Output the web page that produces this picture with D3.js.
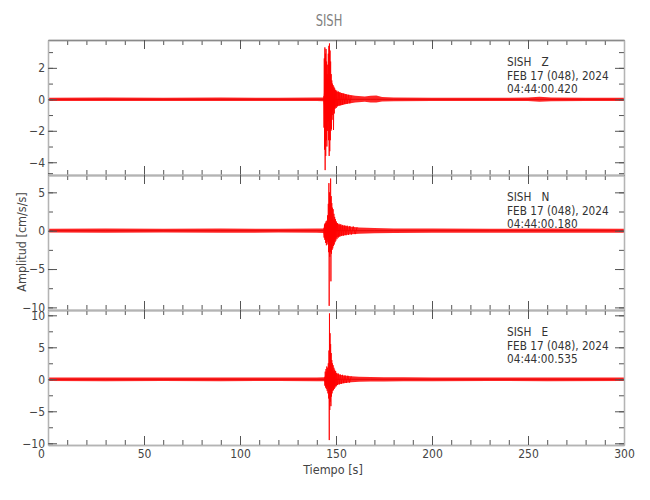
<!DOCTYPE html>
<html><head><meta charset="utf-8">
<script src="https://cdn.jsdelivr.net/npm/d3@7/dist/d3.min.js"></script>
<style>
body{margin:0;background:#fff;}
svg text{font-family:"Liberation Sans Narrow","DejaVu Sans Condensed",sans-serif;font-stretch:condensed;}
</style></head>
<body><svg id="c" width="650" height="500"></svg>
<script>
// ---------- data ----------
const title = "SISH";
const channels = ["Z", "N", "E"];
const stationLabels = ["SISH   Z", "SISH   N", "SISH   E"];
const dateLabel = "FEB 17 (048), 2024";
const startTimes = ["04:44:00.420", "04:44:00.180", "04:44:00.535"];
const xTicks = [0, 50, 100, 150, 200, 250, 300];
const yTicksZ = [2, 0, -2, -4];
const yTicksN = [5, 0, -5, -10];
const yTicksE = [10, 5, 0, -5, -10];
const yDomainZ = [-4.81, 3.77];
const yDomainN = [-10.34, 7.26];
const yDomainE = [-10.27, 10.83];

// background noise envelopes (time s, upper, lower)
const envTZ  = [0, 30, 60, 90, 120, 140, 143.5, 144.5, 147, 148, 150, 153, 156, 160, 165, 168, 171, 174, 180, 200, 230, 250, 256, 262, 280, 300];
const envHiZ = [0.1, 0.11, 0.1, 0.11, 0.1, 0.11, 0.12, 1.3, 1.3, 0.8, 0.5, 0.4, 0.3, 0.22, 0.18, 0.22, 0.24, 0.15, 0.12, 0.1, 0.1, 0.11, 0.16, 0.12, 0.1, 0.1];
const envLoZ = [-0.1, -0.11, -0.1, -0.11, -0.1, -0.11, -0.12, -1.3, -1.3, -0.8, -0.45, -0.36, -0.28, -0.2, -0.16, -0.2, -0.2, -0.14, -0.12, -0.1, -0.1, -0.11, -0.15, -0.12, -0.1, -0.1];

const envTN  = [0, 30, 60, 90, 120, 140, 143.5, 144, 146, 148, 150, 152, 155, 158, 162, 166, 170, 180, 200, 230, 260, 300];
const envHiN = [0.25, 0.27, 0.25, 0.27, 0.25, 0.27, 0.3, 0.8, 1.2, 1.6, 1.0, 0.75, 0.6, 0.5, 0.42, 0.38, 0.35, 0.3, 0.27, 0.26, 0.27, 0.26];
const envLoN = [-0.25, -0.27, -0.25, -0.27, -0.25, -0.27, -0.3, -1.0, -1.3, -1.6, -0.95, -0.7, -0.55, -0.45, -0.4, -0.36, -0.33, -0.3, -0.27, -0.26, -0.27, -0.26];

const envTE  = [0, 30, 60, 90, 120, 140, 144, 145, 147, 149, 151, 154, 158, 162, 168, 175, 185, 200, 230, 260, 300];
const envHiE = [0.27, 0.29, 0.27, 0.29, 0.27, 0.29, 0.32, 1.1, 1.6, 1.2, 0.8, 0.6, 0.48, 0.4, 0.36, 0.33, 0.3, 0.29, 0.28, 0.29, 0.28];
const envLoE = [-0.27, -0.29, -0.27, -0.29, -0.27, -0.29, -0.32, -1.1, -1.6, -1.2, -0.8, -0.6, -0.48, -0.4, -0.36, -0.33, -0.3, -0.29, -0.28, -0.29, -0.28];

// strong-motion burst samples (time s, amplitude cm/s/s)
const burstTZ = [143.6,143.75,143.9,144.05,144.2,144.35,144.5,144.65,144.8,144.95,145.1,145.25,145.4,145.55,145.7,145.85,146.0,146.15,146.3,146.45,146.6,146.75,146.9,147.05,147.2,147.35,147.5,147.65,147.8,147.95,148.1,148.3,148.5,148.7,148.9,149.1,149.3,149.5,149.8,150.1,150.4,150.8,151.2,151.6,152.0,152.5,153.0,153.5,154.0,154.6,155.2,155.8,156.5,157.2,158.0];
const burstVZ = [0.2,-1.8,2.6,-3.2,3.3,-4.5,2.9,-3.6,3.2,-2.6,2.4,-3.0,1.6,-2.0,2.2,-1.4,2.9,-2.6,3.4,-3.6,3.55,-3.3,3.1,-2.6,2.4,-2.0,1.6,-1.9,1.2,-1.3,1.0,-1.0,0.9,-1.95,0.8,-0.9,0.7,-0.6,0.6,-0.55,0.55,-0.45,0.5,-0.4,0.45,-0.38,0.4,-0.35,0.36,-0.3,0.32,-0.28,0.28,-0.25,0.22];

const burstTN = [143.6,143.8,144.0,144.2,144.4,144.6,144.8,145.0,145.2,145.4,145.6,145.8,146.0,146.15,146.3,146.45,146.6,146.75,146.9,147.05,147.2,147.35,147.5,147.65,147.8,147.95,148.1,148.3,148.5,148.7,148.9,149.1,149.3,149.5,149.7,149.9,150.2,150.5,150.8,151.2,151.6,152.0,152.5,153.0,153.5,154.0,154.6,155.2,155.8,156.5,157.2,158.0,159.0,160.0,161.0];
const burstVN = [0.3,-0.9,0.8,-1.2,1.0,-1.6,1.2,-1.9,1.3,-1.5,2.0,-1.8,3.5,-2.8,6.2,-9.8,5.0,-3.4,4.2,-2.8,6.8,-6.6,4.5,-3.0,3.6,-2.5,3.0,-2.3,2.8,-2.0,2.2,-1.8,1.8,-1.5,1.5,-1.3,1.2,-1.1,1.0,-0.9,0.9,-0.8,0.85,-0.7,0.75,-0.65,0.7,-0.6,0.65,-0.55,0.6,-0.5,0.55,-0.45,0.45];

const burstTE = [144.0,144.2,144.4,144.6,144.8,145.0,145.2,145.4,145.6,145.8,146.0,146.2,146.35,146.5,146.6,146.75,146.9,147.05,147.2,147.35,147.5,147.65,147.8,147.95,148.1,148.3,148.5,148.7,148.9,149.1,149.3,149.5,149.8,150.1,150.4,150.8,151.2,151.7,152.2,152.8,153.4,154.0,154.7,155.4,156.2,157.0,158.0];
const burstVE = [0.3,-1.0,1.2,-1.3,1.6,-1.5,2.0,-1.8,1.8,-2.2,2.5,-3.0,4.5,-9.5,10.3,-4.8,7.2,-3.5,5.5,-4.2,4.1,-2.7,3.0,-2.2,2.5,-1.8,2.2,-1.7,1.8,-1.5,1.5,-1.3,1.3,-1.1,1.0,-0.9,0.9,-0.8,0.75,-0.7,0.7,-0.6,0.6,-0.55,0.55,-0.5,0.45];

// ---------- layout ----------
const svg = d3.select("#c");
const X0 = 48, X1 = 624;
const panelTops = [40, 175, 310];
const panelH = 135;
const x = d3.scaleLinear().domain([0, 300]).range([X0, X1]);
const xMinor = d3.range(0, 301, 10);

const panels = [
  {dom: yDomainZ, ticks: yTicksZ, minor: d3.range(-4, 4, 1), envT: envTZ, hi: envHiZ, lo: envLoZ, bt: burstTZ, bv: burstVZ},
  {dom: yDomainN, ticks: yTicksN, minor: d3.range(-10, 7.6, 2.5), envT: envTN, hi: envHiN, lo: envLoN, bt: burstTN, bv: burstVN},
  {dom: yDomainE, ticks: yTicksE, minor: d3.range(-10, 10.1, 2.5), envT: envTE, hi: envHiE, lo: envLoE, bt: burstTE, bv: burstVE}
];

const frameCol = "#b4b4b4", tickCol = "#555", textCol = "#444";

svg.append("text").attr("x", 0).attr("y", 0)
  .attr("transform", "translate(329,26) scale(0.8,1)")
  .attr("text-anchor", "middle").attr("font-size", 16).attr("fill", "#808080").text(title);

panels.forEach((p, i) => {
  const top = panelTops[i], bot = top + panelH;
  const y = d3.scaleLinear().domain(p.dom).range([bot, top]);
  const g = svg.append("g");
  const clipId = "clip" + i;
  svg.append("clipPath").attr("id", clipId).append("rect")
    .attr("x", X0).attr("y", top - 6).attr("width", X1 - X0).attr("height", panelH + 12);

  // waveform: envelope band + burst
  const envData = p.envT.map((t, k) => ({t, hi: p.hi[k], lo: p.lo[k]}));
  g.append("path").datum(envData)
    .attr("clip-path", `url(#${clipId})`)
    .attr("fill", "#ff0000").attr("fill-opacity", 0.85)
    .attr("d", d3.area().x(d => x(d.t)).y0(d => y(d.lo)).y1(d => y(d.hi)));
  g.append("path").datum(p.envT.map(t => t))
    .attr("clip-path", `url(#${clipId})`)
    .attr("fill", "none").attr("stroke", "#e00000").attr("stroke-width", 0.8)
    .attr("d", d3.line().x(t => x(t)).y(() => y(0)));
  const bData = p.bt.map((t, k) => ({t, v: p.bv[k]}));
  g.append("path").datum(bData)
    .attr("clip-path", `url(#${clipId})`)
    .attr("fill", "none").attr("stroke", "#ff0000").attr("stroke-width", 1).attr("stroke-opacity", 0.85)
    .attr("d", d3.line().x(d => x(d.t)).y(d => y(d.v)));

  function styleAx(sel) {
    sel.select(".domain").attr("stroke", frameCol).attr("stroke-width", 1.3);
    sel.selectAll(".tick line").attr("stroke", tickCol);
    sel.selectAll(".tick text").attr("fill", textCol).attr("font-size", 12);
  }
  // bottom
  const bMin = g.append("g").attr("transform", `translate(0,${bot})`)
    .call(d3.axisBottom(x).tickValues(xMinor).tickSize(-5).tickSizeOuter(0).tickFormat(""));
  styleAx(bMin);
  const bMaj = g.append("g").attr("transform", `translate(0,${bot})`)
    .call(d3.axisBottom(x).tickValues(xTicks).tickSize(-9).tickSizeOuter(0)
      .tickFormat(i === 2 ? d3.format("d") : "").tickPadding(4));
  styleAx(bMaj);
  bMaj.selectAll(".tick text").filter(d => d === 0).attr("x", -7);
  // top
  const tMin = g.append("g").attr("transform", `translate(0,${top})`)
    .call(d3.axisTop(x).tickValues(xMinor).tickSize(-5).tickSizeOuter(0).tickFormat(""));
  styleAx(tMin);
  const tMaj = g.append("g").attr("transform", `translate(0,${top})`)
    .call(d3.axisTop(x).tickValues(xTicks).tickSize(-9).tickSizeOuter(0).tickFormat(""));
  styleAx(tMaj);
  if (i === 0) tMaj.select(".domain").attr("stroke", "#8a8a8a");
  // left
  const lMin = g.append("g").attr("transform", `translate(${X0},0)`)
    .call(d3.axisLeft(y).tickValues(p.minor).tickSize(-5).tickSizeOuter(0).tickFormat(""));
  styleAx(lMin);
  const lMaj = g.append("g").attr("transform", `translate(${X0},0)`)
    .call(d3.axisLeft(y).tickValues(p.ticks).tickSize(-9).tickSizeOuter(0).tickPadding(3));
  styleAx(lMaj);
  // right
  const rMin = g.append("g").attr("transform", `translate(${X1},0)`)
    .call(d3.axisRight(y).tickValues(p.minor).tickSize(-5).tickSizeOuter(0).tickFormat(""));
  styleAx(rMin);
  const rMaj = g.append("g").attr("transform", `translate(${X1},0)`)
    .call(d3.axisRight(y).tickValues(p.ticks).tickSize(-9).tickSizeOuter(0).tickFormat(""));
  styleAx(rMaj);

  // station text
  const lines = [stationLabels[i], dateLabel, startTimes[i]];
  lines.forEach((s, k) => {
    svg.append("text").attr("x", 507).attr("y", top + 26 + k * 13.7)
      .attr("font-size", 11.7).attr("fill", "#333")
      .attr("xml:space", "preserve").style("white-space", "pre").text(s);
  });
});

svg.append("text").attr("x", 333).attr("y", 474).attr("text-anchor", "middle")
  .attr("font-size", 12.5).attr("fill", textCol).text("Tiempo [s]");
svg.append("text").attr("transform", "translate(26,242) rotate(-90)").attr("text-anchor", "middle")
  .attr("font-size", 12.5).attr("fill", textCol).text("Amplitud [cm/s/s]");
</script></body></html>
